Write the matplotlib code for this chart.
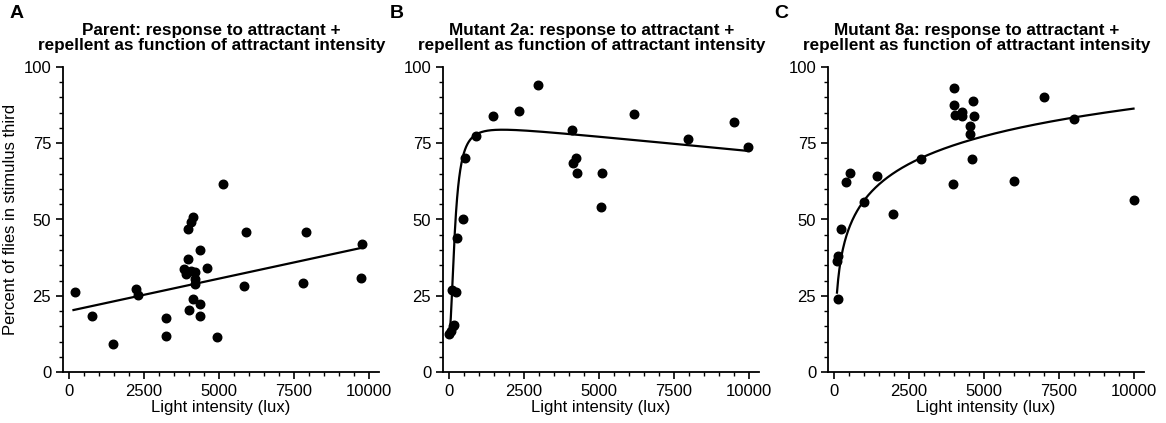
import numpy as np
import matplotlib
matplotlib.use("Agg")
import matplotlib.pyplot as plt
from matplotlib.ticker import MultipleLocator

plt.rcParams['font.family'] = ['Liberation Sans', 'DejaVu Sans']

# Panel A: parent
a_x = [185, 760, 1470, 2250, 2300, 3240, 3240, 4000, 3970, 4080, 4150, 3970, 3840, 3910, 4060,
       4220, 4220, 4220, 4150, 4380, 4380, 4380, 4620, 4950, 5130, 5900, 5830, 7920, 7800, 9780, 9740]
a_y = [26.2, 18.4, 9.2, 27.3, 25.4, 17.8, 11.7, 20.2, 47, 49.2, 50.8, 37, 33.7, 32.2, 33,
       32.9, 30.4, 29, 23.8, 40.1, 22.4, 18.4, 34.2, 11.6, 61.7, 46, 28.2, 45.9, 29.3, 42.1, 30.9]
# Panel B: mutant 2a
b_x = [10, 65, 120, 160, 90, 220, 270, 470, 520, 915, 1480, 2340, 2970, 4120, 4140, 4230, 4260,
       5080, 5120, 6190, 7970, 9510, 9980]
b_y = [12.3, 13.4, 15.1, 15.3, 27, 26.2, 44, 50, 70.3, 77.3, 84, 85.5, 94, 79.2, 68.6, 70.3, 65.2,
       54.1, 65.2, 84.7, 76.5, 81.9, 73.9]
# Panel C: mutant 8a
c_x = [90, 140, 150, 240, 390, 545, 990, 1440, 1960, 2920, 3970, 4010, 4010, 4030, 4280, 4280,
       4530, 4550, 4630, 4690, 4620, 6010, 7000, 8000, 10000]
c_y = [36.3, 38.1, 23.8, 47, 62.2, 65.2, 55.6, 64.4, 51.7, 69.8, 61.6, 93.2, 87.4, 84.4, 85.2, 83.8,
       80.5, 77.9, 88.9, 83.9, 69.8, 62.6, 90, 83, 56.3]

titles = ["Parent: response to attractant +\nrepellent as function of attractant intensity",
          "Mutant 2a: response to attractant +\nrepellent as function of attractant intensity",
          "Mutant 8a: response to attractant +\nrepellent as function of attractant intensity"]
letters = ["A", "B", "C"]

# fitted curves
xa = np.linspace(150, 9800, 200)
ya = 20 + 0.00212 * xa
xb = np.linspace(0, 10000, 2000)
yb = 12 + 70 * xb**2 / (200**2 + xb**2) - 0.00095 * xb
xc = np.linspace(100, 10000, 500)
yc = -34.3 + 13.1 * np.log(xc)

fig = plt.figure(figsize=(11.66, 4.23), dpi=100)
lefts = [63, 443, 828]
width = 316
data = [(a_x, a_y, xa, ya), (b_x, b_y, xb, yb), (c_x, c_y, xc, yc)]
for i, (px, py, lx, ly) in enumerate(data):
    ax = fig.add_axes([lefts[i] / 1166, 51 / 423, width / 1166, 305 / 423])
    ax.scatter(px, py, s=38, color="black", zorder=3)
    ax.plot(lx, ly, color="black", lw=1.6)
    ax.set_xlim(-200, 10350)
    ax.set_ylim(0, 100)
    ax.set_xticks([0, 2500, 5000, 7500, 10000])
    ax.set_yticks([0, 25, 50, 75, 100])
    ax.xaxis.set_minor_locator(MultipleLocator(500))
    ax.yaxis.set_minor_locator(MultipleLocator(5))
    for s in ["top", "right"]:
        ax.spines[s].set_visible(False)
    for s in ["left", "bottom"]:
        ax.spines[s].set_linewidth(1.3)
    ax.tick_params(which="major", length=5, width=1.2, labelsize=12)
    ax.tick_params(which="minor", length=3, width=1.0)
    ax.set_xlabel("Light intensity (lux)", fontsize=12, labelpad=1)
    if i == 0:
        ax.set_ylabel("Percent of flies in stimulus third", fontsize=12)
    ax.set_title(titles[i], fontsize=12.3, fontweight="bold", pad=12, x=0.47, linespacing=1.05)
    ax.text(-0.17, 1.16, letters[i], transform=ax.transAxes, fontsize=14, fontweight="bold")

fig.savefig("out.png", dpi=100)
